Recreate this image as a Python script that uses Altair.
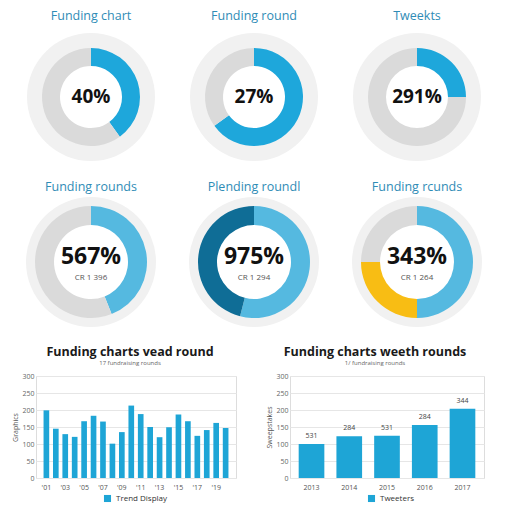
import altair as alt
import pandas as pd

FONT = "Open Sans"

# ---- donut data ----
row1_titles = ["Funding chart", "Funding round", "Tweekts"]
row1_labels = ["40%", "27%", "291%"]
row1_values = [[40, 60], [65, 35], [25, 75]]
row1_cats = [["share", "rest"], ["share", "rest"], ["share", "rest"]]

row2_titles = ["Funding rounds", "Plending roundl", "Funding rcunds"]
row2_labels = ["567%", "975%", "343%"]
row2_subs = ["CR 1 396", "CR 1 294", "CR 1 264"]
row2_values = [[44, 56], [54, 46], [50, 25, 25]]
row2_cats = [["light", "rest"], ["light", "dark"], ["light", "yellow", "rest"]]

# ---- bar data ----
left_cats = ["'01", "'02", "'03", "'04", "'05", "'06", "'07", "'08", "'09", "'10",
             "'11", "'12", "'13", "'14", "'15", "'16", "'17", "'18", "'19", "'20"]
left_values = [199, 145, 129, 121, 167, 183, 166, 101, 135, 213,
               188, 150, 120, 149, 187, 167, 124, 141, 162, 147]
right_cats = ["2013", "2014", "2015", "2016", "2017"]
right_values = [100, 123, 124, 156, 204]
right_labels = ["531", "284", "531", "284", "344"]
y_ticks = [0, 50, 100, 150, 200, 250, 300]

seg_domain = ["share", "rest", "light", "dark", "yellow"]
seg_range = ["#1ea7db", "#dadada", "#55b9e0", "#0f6d96", "#f8bd14"]
BLUE = "#1ea5d6"
TITLE_BLUE = "#2f8cb6"
PANEL_W = [110, 216, 110]


def donut(title, label, values, cats, sub, r_out, r_in, halo_w, big, w, h, off):
    df = pd.DataFrame({"seg": cats, "value": values, "order": list(range(len(values)))})
    halo_df = pd.DataFrame({"v": [1]})
    halo = alt.Chart(halo_df).mark_arc(outerRadius=r_out + halo_w, innerRadius=r_out - 1,
                                       color="#f1f1f1").encode(theta=alt.Theta("v:Q", stack=True))
    ring = alt.Chart(df).mark_arc(outerRadius=r_out, innerRadius=r_in).encode(
        theta=alt.Theta("value:Q", stack=True),
        color=alt.Color("seg:N", scale=alt.Scale(domain=seg_domain, range=seg_range), legend=None),
        order=alt.Order("order:Q"),
    )
    layers = [halo, ring]
    big_dy = 0 if sub is None else -5
    txt = alt.Chart(pd.DataFrame({"t": [label]})).mark_text(
        font=FONT, fontSize=big, fontWeight="bold", color="#111111", dy=big_dy
    ).encode(text="t:N")
    layers.append(txt)
    if sub is not None:
        st = alt.Chart(pd.DataFrame({"t": [sub]})).mark_text(
            font=FONT, fontSize=8, color="#555555", dy=16
        ).encode(text="t:N")
        layers.append(st)
    return alt.layer(*layers).resolve_scale(theta="independent").properties(
        width=w, height=h,
        title=alt.Title(title, fontSize=12.5, fontWeight="normal", color=TITLE_BLUE, font=FONT, offset=off),
    )


row1 = alt.hconcat(*[donut(t, l, v, c, None, 49, 31, 15, 19, w, 130, 10)
                     for t, l, v, c, w in zip(row1_titles, row1_labels, row1_values, row1_cats, PANEL_W)],
                   spacing=0, bounds="flush")
row2 = alt.hconcat(*[donut(t, l, v, c, s, 56, 37, 9, 23, w, 130, 4)
                     for t, l, v, c, s, w in zip(row2_titles, row2_labels, row2_values, row2_cats,
                                                 row2_subs, PANEL_W)],
                   spacing=0, bounds="flush")


def bar_chart(cats, values, title, subtitle, ytitle, series, width, pi, po, xvals, lx, tdx, labels=None):
    df = pd.DataFrame({"cat": cats, "value": values, "series": series})
    if labels is not None:
        df["lab"] = labels
    base = alt.Chart(df)
    x_enc = alt.X("cat:N", sort=None,
                  scale=alt.Scale(paddingInner=pi, paddingOuter=po),
                  axis=alt.Axis(title=None, values=xvals, labelAngle=0, ticks=False, domain=False,
                                labelFontSize=7, labelColor="#555555", labelFont=FONT, labelPadding=5))
    y_enc = alt.Y("value:Q", scale=alt.Scale(domain=[0, 300]),
                  axis=alt.Axis(values=y_ticks, title=ytitle, titleFontSize=7, titleFontWeight="normal",
                                titleColor="#555555", labelFontSize=7, labelColor="#666666",
                                labelFont=FONT, titleFont=FONT, ticks=False, domain=False,
                                gridColor="#e6e6e6", titlePadding=3))
    bars = base.mark_bar(color=BLUE).encode(
        x=x_enc, y=y_enc,
        color=alt.Color("series:N", scale=alt.Scale(range=[BLUE]),
                        legend=alt.Legend(orient="none", legendX=lx, legendY=118, title=None,
                                          symbolType="square", direction="horizontal",
                                          labelFontSize=8, labelFont=FONT, labelColor="#333333",
                                          symbolSize=50)),
    )
    layers = [bars]
    if labels is not None:
        layers.append(base.mark_text(dy=-8, fontSize=7, color="#444444", font=FONT).encode(
            x=x_enc, y=y_enc, text="lab:N"))
    return alt.layer(*layers).properties(
        width=width, height=102,
        title=alt.Title(title, subtitle=subtitle, fontSize=12.5, fontWeight="bold", color="#1a1a1a",
                        font=FONT, subtitleFontSize=6, subtitleColor="#666666", subtitleFont=FONT,
                        offset=6, subtitlePadding=2, dx=tdx),
    )


left = bar_chart(left_cats, left_values, "Funding charts vead round", "17 fundraising rounds",
                 "Graphics", "Trend Display", 200, 0.4, 0.8, left_cats[::2], 67, -6)
right = bar_chart(right_cats, right_values, "Funding charts weeth rounds", "1/ fundraising rounds",
                  "Sweepstakes", "Tweeters", 194, 0.32, 0.23, right_cats, 77, -12, right_labels)
row3 = alt.hconcat(left, right, spacing=28).resolve_scale(color="independent")

chart = alt.ConcatChart(concat=[row1, row2, row3], columns=1, align="none", spacing=18).properties(
    padding={"left": 3, "top": 1, "right": 0, "bottom": 0}
).configure_view(stroke=None).configure(font=FONT, background="white")

chart.save("out.html", embed_options={"renderer": "svg", "actions": False})
